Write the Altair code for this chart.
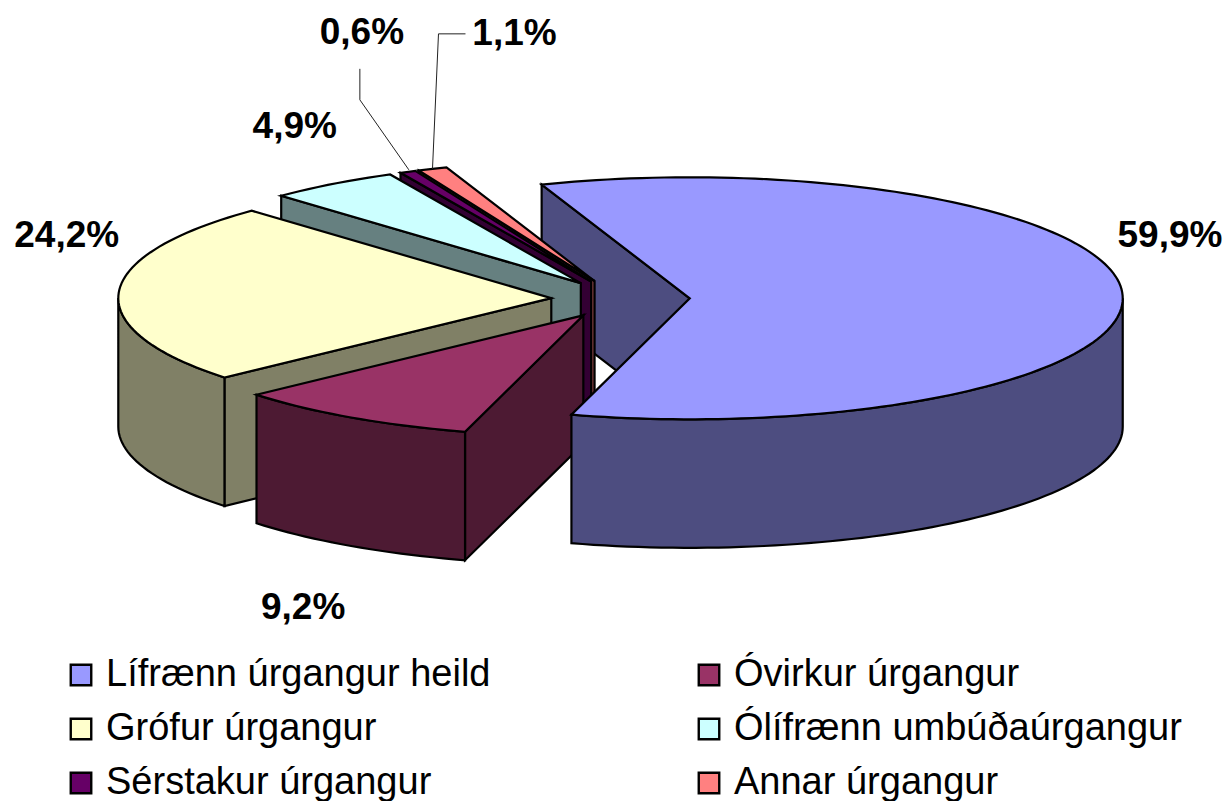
import math
import altair as alt

# --- data ---
series = ["Lífrænn úrgangur heild", "Óvirkur úrgangur", "Grófur úrgangur",
          "Ólífrænn umbúðaúrgangur", "Sérstakur úrgangur", "Annar úrgangur"]
shares = [59.9, 9.2, 24.2, 4.9, 0.6, 1.1]
labels = ["59,9%", "9,2%", "24,2%", "4,9%", "0,6%", "1,1%"]
top_colors = ["#9999FF", "#993366", "#FFFFCC", "#CCFFFF", "#660066", "#FF8080"]
side_colors = ["#4D4D80", "#4D1A33", "#808066", "#668080", "#330033", "#804040"]
legend_order = series

# --- pie geometry (Excel 3-D exploded pie), drawing-space units ---
CX, CY = 612.5, 291.0
RX, RY = 433.0, 121.0
DEPTH = 128.5
EXPLODE = 0.16
FIRST_ANGLE = -20.0
# offset of each label from its slice's rim point at the mid angle
LABEL_OFFSET = [(47.5, -58), (-48, 191), (-52, -57), (-38, -57), (-46, -139), (82, -135)]


def rim(apex, a):
    r = math.radians(a)
    return (apex[0] + RX * math.sin(r), apex[1] - RY * math.cos(r))


def arc(apex, a0, a1):
    n = max(2, int(abs(a1 - a0) / 1.5) + 1)
    return [rim(apex, a0 + (a1 - a0) * i / (n - 1)) for i in range(n)]


def down(pts):
    return [(x, y + DEPTH) for x, y in pts]


def feature(key, pts):
    ring = [[x, y] for x, y in pts] + [[pts[0][0], pts[0][1]]]
    return {"type": "Feature", "properties": {"key": key},
            "geometry": {"type": "Polygon", "coordinates": [ring]}}


def line_feature(pts):
    return {"type": "Feature", "properties": {},
            "geometry": {"type": "LineString", "coordinates": [list(p) for p in pts]}}


slices = []
angle = FIRST_ANGLE
total = sum(shares)
for name, share in zip(series, shares):
    a0, a1 = angle, angle + share / total * 360
    mid = (a0 + a1) / 2
    r = math.radians(mid)
    apex = (CX + EXPLODE * RX * math.sin(r), CY - EXPLODE * RY * math.cos(r))
    slices.append(dict(name=name, a0=a0, a1=a1, mid=mid, apex=apex))
    angle = a1


def walls(s):
    """Faces of a slice seen from above-front."""
    out = []
    apex = s["apex"]
    p0 = rim(apex, s["a0"])
    # radial wall at the start edge faces the viewer when it lies on the left half
    if math.sin(math.radians(s["a0"])) < 0:
        out.append([apex, p0, (p0[0], p0[1] + DEPTH), (apex[0], apex[1] + DEPTH)])
    # outer wall: only the lower half of the ellipse
    lo, hi = max(s["a0"], 90), min(s["a1"], 270)
    if lo < hi:
        rimpts = arc(apex, lo, hi)
        out.append(rimpts + down(rimpts)[::-1])
    return out


features = []
blue = slices[0]
blue_walls = walls(blue)
# the cut wall of the big slice lies behind everything else
features.append(feature(series[0] + " hlið", blue_walls[0]))
for s in [slices[5], slices[4], slices[3], slices[2], slices[1]]:
    for w in walls(s):
        features.append(feature(s["name"] + " hlið", w))
    features.append(feature(s["name"], [s["apex"]] + arc(s["apex"], s["a0"], s["a1"])))
for w in blue_walls[1:]:
    features.append(feature(series[0] + " hlið", w))
features.append(feature(series[0], [blue["apex"]] + arc(blue["apex"], blue["a0"], blue["a1"])))

label_rows = []
for s, text, (dx, dy) in zip(slices, labels, LABEL_OFFSET):
    x, y = rim(s["apex"], s["mid"])
    label_rows.append({"t": text, "lx": x + dx, "ly": y + dy})

# leader lines of the two thin slices
r4 = rim(slices[4]["apex"], slices[4]["mid"])
r5 = rim(slices[5]["apex"], slices[5]["mid"])
leaders = [
    line_feature([(r4[0] + 1, r4[1] - 2), (r4[0] - 48, r4[1] - 72), (r4[0] - 48, r4[1] - 103)]),
    line_feature([(r5[0] + 0, r5[1] + 0), (r5[0] + 6, r5[1] - 135), (r5[0] + 33, r5[1] - 135)]),
]

PROJ = dict(type="identity", scale=1, translate=[0, 0])
FONT = "Liberation Sans"

domain = series + [n + " hlið" for n in series]
colours = top_colors + side_colors

faces = alt.Chart(
    alt.Data(values=features)
).mark_geoshape(stroke="black", strokeWidth=2.2, strokeJoin="miter").encode(
    fill=alt.Color(
        "properties.key:N",
        scale=alt.Scale(domain=domain, range=colours),
        legend=alt.Legend(
            values=legend_order, orient="none", legendX=54, legendY=648,
            direction="horizontal", columns=2, title=None, symbolType="square",
            symbolSize=420, symbolStrokeColor="black", symbolStrokeWidth=2.4,
            symbolOpacity=1, labelFont=FONT, labelFontSize=38, labelColor="black",
            labelLimit=600, labelOffset=6, columnPadding=199, rowPadding=16,
            padding=0, gridAlign="each", clipHeight=38,
        ),
    ),
    tooltip=alt.value(None),
).project(**PROJ)

lead = alt.Chart(alt.Data(values=leaders)).mark_geoshape(
    filled=False, stroke="#222222", strokeWidth=1
).project(**PROJ)

text = alt.Chart(alt.Data(values=label_rows)).mark_text(
    font=FONT, fontSize=37, fontWeight="bold", color="black", align="center", baseline="middle"
).encode(longitude="lx:Q", latitude="ly:Q", text="t:N").project(**PROJ)

chart = alt.layer(faces, lead, text).properties(
    width=1216, height=793, padding=0, autosize=alt.AutoSizeParams(type="none")
).configure_view(stroke=None)

chart.save("out.html", embed_options={"renderer": "svg", "actions": False})
